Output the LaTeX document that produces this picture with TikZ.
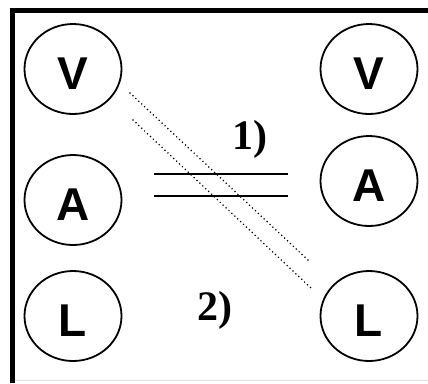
\documentclass[tikz,border=0pt]{standalone}
\usepackage{fontspec}
\setmainfont{Liberation Serif}
\newfontfamily\letterfont{Liberation Sans}
\usetikzlibrary{shapes.geometric}

\tikzset{
	meter/.style={draw,ellipse,line width=1.8pt,minimum width=97pt,minimum height=90pt,inner sep=0pt},
	letter/.style={font=\letterfont\bfseries\fontsize{46}{46}\selectfont,inner sep=0pt},
	numlabel/.style={font=\bfseries\fontsize{42}{42}\selectfont,inner sep=0pt,anchor=base},
	wire/.style={line width=2pt},
	dots/.style={line width=1.7pt,line cap=round,dash pattern=on 0pt off 4pt}
}

\begin{document}
\begin{tikzpicture}[x=1pt,y=-1pt]
		\useasboundingbox (0,0) rectangle (428,383);
		\fill[white] (0,0) rectangle (428,383);

		% frame
		\draw[line width=4.5pt] (12.5,383) -- (12.5,10.5) -- (428,10.5);
		\draw[gray!25,line width=1pt] (15,380.5) -- (428,380.5);

		% meters, left and right
		\foreach \x/\y/\t/\n in {73/69/V/lv,73/200/A/la,73/316/L/ll,369/69/V/rv,369/181/A/ra,369/316/L/rl}
		{
			\node[meter] (\n) at (\x,\y) {};
			\node[letter,yshift=-5pt] (\n t) at (\n) {\t};
		}

		% two wires
		\coordinate (w1a) at (154,174);
		\coordinate (w1b) at (288,174);
		\coordinate (w2a) at (154,196);
		\coordinate (w2b) at (288,196);
		\draw[wire] (w1a) -- (w1b);
		\draw[wire] (w2a) -- (w2b);

		\coordinate (d1a) at (130,93);
		\coordinate (d1b) at (309,261);
		\coordinate (d2a) at (133,120);
		\coordinate (d2b) at (312,289);
		\draw[dots] (d1a) -- (d1b);
		\draw[dots] (d2a) -- (d2b);

		\node[numlabel] (one) at (250,149) {1)};
		\node[numlabel] (two) at (215,320) {2)};
	\end{tikzpicture}
\end{document}
